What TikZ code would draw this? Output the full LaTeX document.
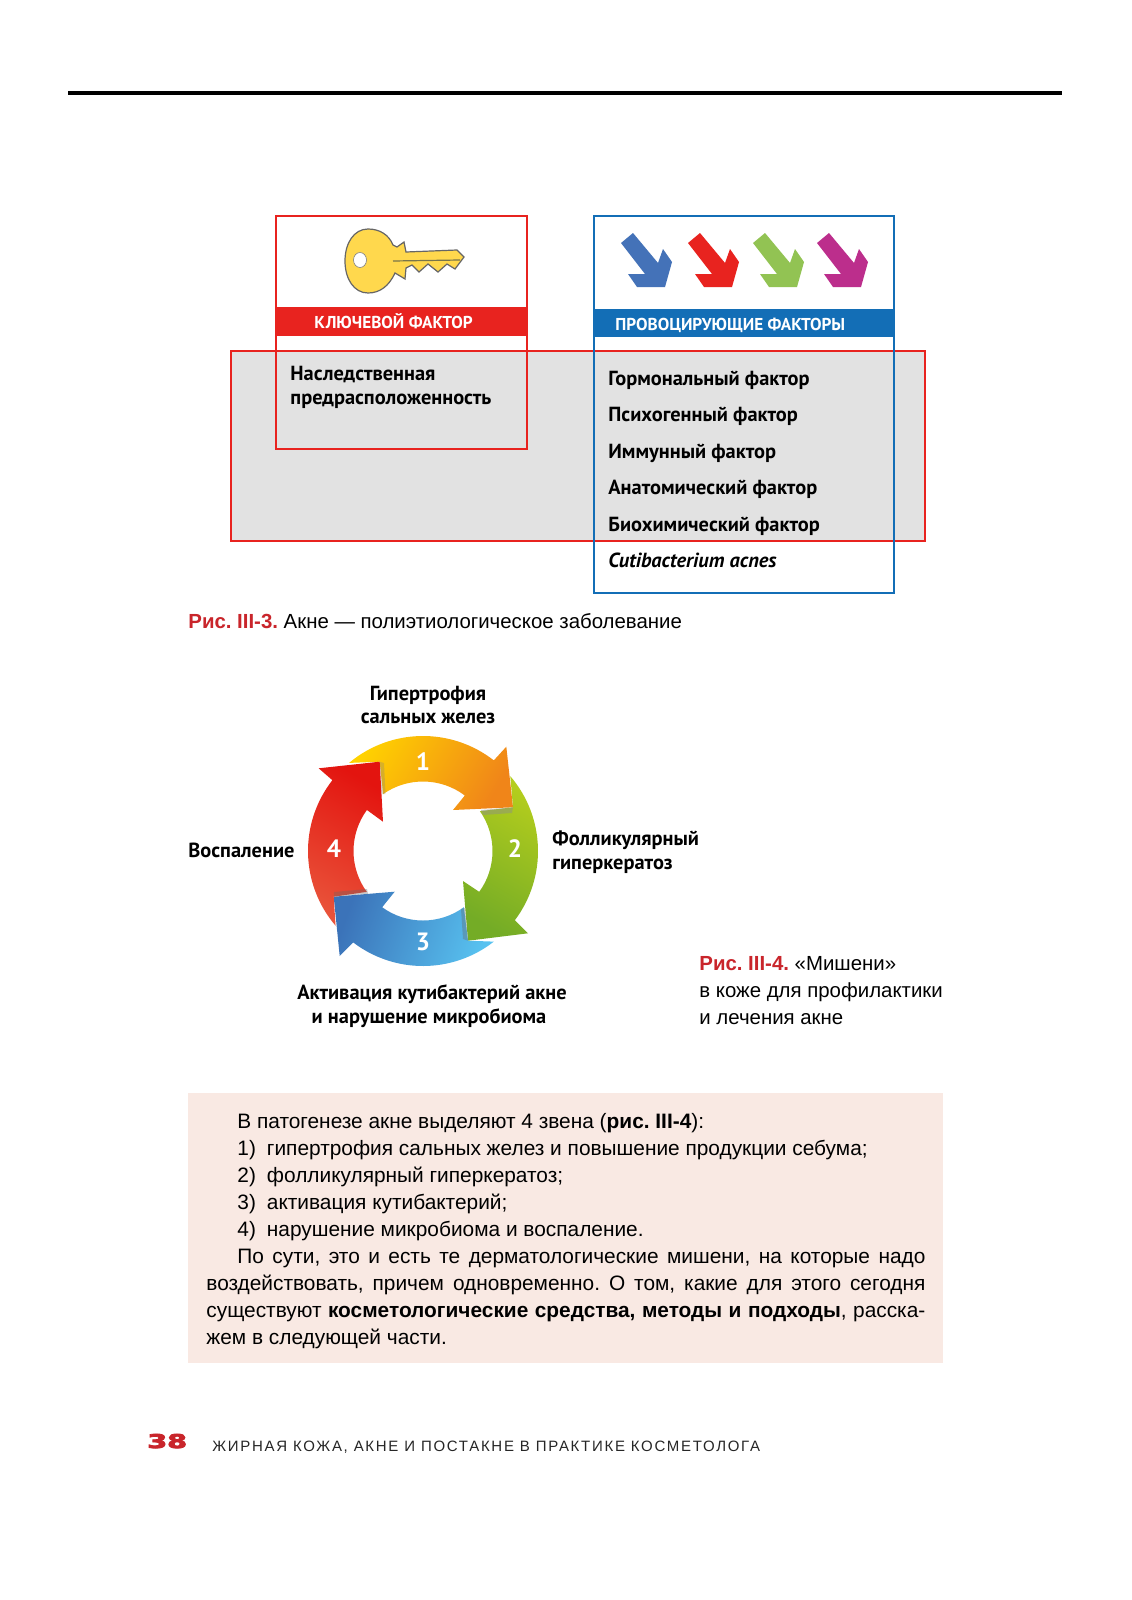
\documentclass[tikz,border=0pt]{standalone}
\usepackage{fontspec}
\usepackage{xcolor}
\usepackage{tikz}
\setmainfont{Liberation Sans}
\newfontfamily\labelfont{PT Sans}
\newfontfamily\heavyfont{DejaVu Sans}

\definecolor{keyred}{HTML}{E8231F}
\definecolor{factorblue}{HTML}{136EB6}
\definecolor{panelgray}{HTML}{E2E2E2}
\definecolor{notepeach}{HTML}{F9E9E3}
\definecolor{capred}{HTML}{C9252B}
\definecolor{keyyellow}{HTML}{FFD84D}

\tikzset{
    lbl/.style={inner sep=0pt, anchor=base west, font=\labelfont\bfseries\fontsize{10.2}{12}\selectfont},
    lblc/.style={inner sep=0pt, anchor=base, font=\labelfont\bfseries\fontsize{10.2}{12}\selectfont},
    barlbl/.style={inner sep=0pt, anchor=base west, text=white, font=\labelfont\bfseries\fontsize{8.6}{10}\selectfont},
    body/.style={inner sep=0pt, anchor=base west, font=\frenchspacing\fontsize{10.2}{13}\selectfont},
    notetxt/.style={inner sep=0pt, anchor=base west, font=\frenchspacing\fontsize{10.43}{13}\selectfont},
    ringnum/.style={inner sep=0pt, text=white, font=\labelfont\bfseries\fontsize{12.5}{14}\selectfont}
}
\newcommand{\capbold}[1]{\textcolor{capred}{\textbf{#1}}}
\newcommand{\just}[2]{\makebox[#1pt][s]{#2}}

\begin{document}
\begin{tikzpicture}[x=0.5pt, y=-0.5pt]
    \useasboundingbox (0,0) rectangle (1131,1600);
    \fill[white] (0,0) rectangle (1131,1600);

    % Top rule
    \fill[black] (68,91) rectangle (1062,95);

    % Gray panel
    \draw[keyred, line width=1.2pt, fill=panelgray] (231,351) rectangle (925,541);

    % Key factor box
    \draw[keyred, line width=1.2pt] (276,216) rectangle (527,449);
    \fill[keyred] (276,307) rectangle (527,336);

    % Trigger factors box
    \draw[factorblue, line width=1.2pt] (594,216) rectangle (894,593);
    \fill[factorblue] (594,309) rectangle (894,337);

    % Key
    \draw[black!60, line width=0.6pt, fill=keyyellow] (393,245) -- (397,247) -- (404,242) -- (406,252) -- (457,250)
        -- (464,257) -- (455,269) -- (447,264) -- (438,272) -- (428,264) -- (419,272)
        -- (412,265) -- (406,268) -- (405,279) -- (395,273)
        .. controls (389,286) and (380,293) .. (368,293)
        .. controls (354,293) and (345,279) .. (345,261)
        .. controls (345,243) and (354,229) .. (368,229)
        .. controls (380,229) and (389,235) .. (393,245) -- cycle;
    \draw[black!50, line width=0.3pt, fill=white] (360,260) ellipse (6.5 and 7.5);
    \draw[black!60!yellow, line width=0.6pt] (393,261) -- (460,260);

    % Small arrows
    \foreach \dx/\col in {0/4472B8, 67/E8231F, 132/92C353, 196/BC2E8C} {
        \definecolor{arrowcol}{HTML}{\col}
        \fill[arrowcol, shift={(\dx,0)}] (621,243) -- (633,233) -- (658,263) -- (663,249) -- (672,262)
            -- (665,287) -- (637,287) -- (628,274) -- (645,274) -- cycle;
    }

    % Box texts
    \node[barlbl] (keybar) at (314,328) {КЛЮЧЕВОЙ ФАКТОР};
    \node[barlbl] (trigbar) at (615,330) {ПРОВОЦИРУЮЩИЕ ФАКТОРЫ};
    \node[lbl] (here1) at (290,380) {Наследственная};
    \node[lbl] (here2) at (290,404) {предрасположенность};
    \node[lbl] (f1) at (608,385) {Гормональный фактор};
    \node[lbl] (f2) at (608,421.5) {Психогенный фактор};
    \node[lbl] (f3) at (608,458) {Иммунный фактор};
    \node[lbl] (f4) at (608,494.5) {Анатомический фактор};
    \node[lbl] (f5) at (608,531) {Биохимический фактор};
    \node[lbl] (f6) at (608,567.5) {\itshape Cutibacterium acnes};

    % Caption 3
    \node[body] (cap3) at (188,628) {\capbold{Рис. III-3.} Акне — полиэтиологическое заболевание};

    % Ring of arrows
    \definecolor{ringyellow}{HTML}{FFD200}
    \definecolor{ringorange}{HTML}{F08519}
    \definecolor{ringlime}{HTML}{B4CD1D}
    \definecolor{ringgreen}{HTML}{74AC26}
    \definecolor{ringsky}{HTML}{58C2F0}
    \definecolor{ringblue}{HTML}{3B73B9}
    \definecolor{ringred}{HTML}{E3140F}
    \definecolor{ringcoral}{HTML}{E9533A}
    \begin{scope}[shift={(423,851)}, x=0.5pt, y=0.5pt]
        \shade[top color=ringyellow, bottom color=ringorange, shading angle=60]
            (130:115) arc[start angle=130, end angle=52, radius=115] -- (83.3,104.3) -- (90,43.7) -- (30,41)
            -- (53:69.5) arc[start angle=53, end angle=125, radius=69.5] -- (-43.3,89.3) -- cycle;
        \shade[top color=ringlime, bottom color=ringgreen, shading angle=-30]
            (40.6:115) arc[start angle=40.6, end angle=-37, radius=115] -- (105,-82.3) -- (45,-89.7) -- (40,-30)
            -- (-36:69.5) arc[start angle=-36, end angle=35, radius=69.5] -- (90,43.7) -- cycle;
        \shade[top color=ringsky, bottom color=ringblue, shading angle=-110]
            (-52:115) arc[start angle=-52, end angle=-127.4, radius=115] -- (-83.3,-105) -- (-89.3,-45.7) -- (-28.3,-40.7)
            -- (-126:69.5) arc[start angle=-126, end angle=-54, radius=69.5] -- (45,-89.7) -- cycle;
        \shade[top color=ringred, bottom color=ringcoral, shading angle=-30]
            (-139.5:115) arc[start angle=220.5, end angle=142, radius=115] -- (-104.3,82.7) -- (-43.3,89.3) -- (-40,29.3)
            -- (143.8:69.5) arc[start angle=143.8, end angle=216, radius=69.5] -- (-89.3,-45.7) -- cycle;
        % Head shadows
        \fill[black!45, opacity=0.45] (58,41) -- (90,43.7) -- (89,38) -- (60,36) -- cycle;
        \fill[black!60, opacity=0.35] (42,-57) -- (45,-89.7) -- (40,-88) -- (38,-58) -- cycle;
        \fill[black!60, opacity=0.35] (-55,-42.7) -- (-89.3,-45.7) -- (-89,-41) -- (-56,-38) -- cycle;
        \fill[black!50, opacity=0.30] (-43.3,89.3) -- (-41.5,57) -- (-37.5,57) -- (-39,88) -- cycle;
    \end{scope}
    \node[ringnum] (n1) at (423,762) {1};
    \node[ringnum] (n2) at (515,849) {2};
    \node[ringnum] (n3) at (423,942) {3};
    \node[ringnum] (n4) at (334,849) {4};

    % Ring labels
    \node[lblc] (top1) at (428,700) {Гипертрофия};
    \node[lblc] (top2) at (428,723) {сальных желез};
    \node[lbl] (lft) at (188,857) {Воспаление};
    \node[lbl] (rgt1) at (552,845) {Фолликулярный};
    \node[lbl] (rgt2) at (552,869) {гиперкератоз};
    \node[lblc] (bot1) at (432,999) {Активация кутибактерий акне};
    \node[lblc] (bot2) at (429,1023) {и нарушение микробиома};

    % Caption 4
    \node[body] (cap4a) at (699,970) {\capbold{Рис. III-4.} «Мишени»};
    \node[body] (cap4b) at (699,997) {в коже для профилактики};
    \node[body] (cap4c) at (699,1024) {и лечения акне};

    % Note
    \fill[notepeach] (188,1093) rectangle (943,1363);
    \node[notetxt] (t1) at (237,1128) {В патогенезе акне выделяют 4 звена (\textbf{рис. III-4}):};
    \node[notetxt] (t2) at (237,1155) {1)\hspace{5.5pt}гипертрофия сальных желез и повышение продукции себума;};
    \node[notetxt] (t3) at (237,1182) {2)\hspace{5.5pt}фолликулярный гиперкератоз;};
    \node[notetxt] (t4) at (237,1209) {3)\hspace{5.5pt}активация кутибактерий;};
    \node[notetxt] (t5) at (237,1236) {4)\hspace{5.5pt}нарушение микробиома и воспаление.};
    \node[notetxt] (t6) at (237,1263) {\just{344}{По сути, это и есть те дерматологические мишени, на которые надо}};
    \node[notetxt] (t7) at (206,1290) {\just{359.5}{воздействовать, причем одновременно. О том, какие для этого сегодня}};
    \node[notetxt] (t8) at (206,1317) {\just{359.5}{существуют \textbf{косметологические средства, методы и подходы}, расска-}};
    \node[notetxt] (t9) at (206,1344) {жем в следующей части.};

    % Footer
    \node[inner sep=0pt, anchor=base west, text=capred] (page) at (147,1448)
        {\heavyfont\bfseries\addfontfeature{FakeBold=4}\fontsize{9.5}{12}\selectfont\scalebox{1.5}[1]{38}};
    \node[inner sep=0pt, anchor=base west, text=black!85] (run) at (212,1451)
        {\addfontfeature{LetterSpace=11.4}\fontsize{7.5}{9}\selectfont ЖИРНАЯ КОЖА, АКНЕ И ПОСТАКНЕ В ПРАКТИКЕ КОСМЕТОЛОГА};
\end{tikzpicture}
\end{document}
